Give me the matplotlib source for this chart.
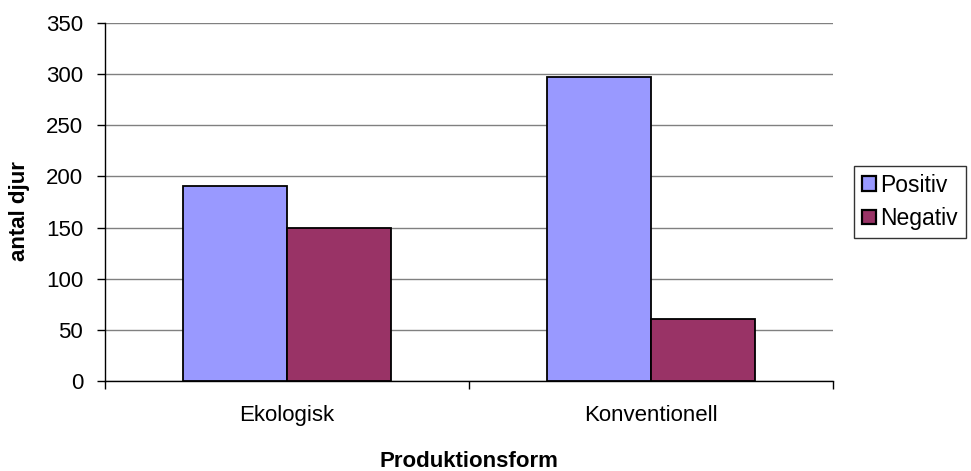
import numpy as np
import matplotlib.pyplot as plt

plt.rcParams['font.family'] = ['Liberation Sans', 'DejaVu Sans']

categories = ['Ekologisk', 'Konventionell']
positiv = [191, 297]
negativ = [150, 61]
series_names = ['Positiv', 'Negativ']

fig = plt.figure(figsize=(9.71, 4.71), dpi=100)
ax = fig.add_axes([105/971, 1-381/471, 728/971, 358/471])

x = np.arange(len(categories))
w = 1/3.5
ax.bar(x - w/2, positiv, w, color='#9999ff', edgecolor='black', linewidth=1.3,
       label=series_names[0], zorder=3)
ax.bar(x + w/2, negativ, w, color='#993366', edgecolor='black', linewidth=1.3,
       label=series_names[1], zorder=3)

ax.set_xlim(-0.5, 1.5)
ax.set_ylim(0, 350)
ax.set_yticks(np.arange(0, 351, 50))
ax.yaxis.grid(True, color='#808080', linewidth=1, zorder=0)
ax.set_xticks(x)
ax.set_xticklabels(categories, fontsize=16)
ax.set_xticks([-0.5, 0.5, 1.5], minor=True)
ax.tick_params(axis='x', which='major', length=0, pad=17)
ax.tick_params(axis='x', which='minor', length=5.8, width=1, color='black')
ax.tick_params(axis='y', length=5.8, width=1, color='black', labelsize=16, pad=10)

for s in ['top', 'right']:
    ax.spines[s].set_visible(False)
for s in ['left', 'bottom']:
    ax.spines[s].set_color('black')
    ax.spines[s].set_linewidth(1)

ax.set_xlabel('Produktionsform', fontsize=16, fontweight='bold')
ax.xaxis.set_label_coords(0.5, -0.195)
ax.set_ylabel('antal djur', fontsize=16, fontweight='bold')
ax.yaxis.set_label_coords(-0.103, 0.475)

leg = ax.legend(loc='center left', bbox_to_anchor=((854 - 105)/728, 0.5),
                fontsize=16.5, frameon=True, fancybox=False, edgecolor='black',
                handlelength=0.6, handleheight=0.6, handletextpad=0.2,
                borderpad=0.35, labelspacing=0.45, borderaxespad=0)
leg.get_frame().set_linewidth(1)
for h in leg.legend_handles:
    h.set_linewidth(1.6)

fig.savefig('out.png', dpi=100)
